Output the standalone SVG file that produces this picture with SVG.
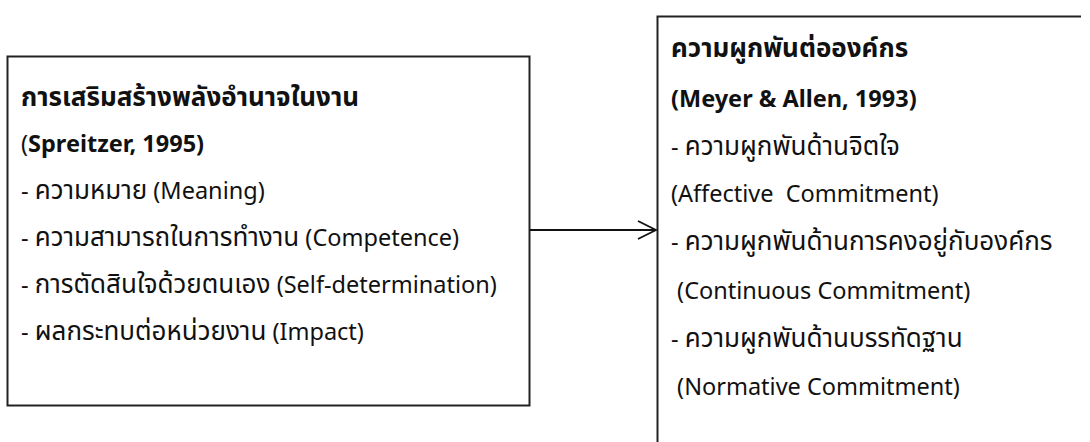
<svg xmlns="http://www.w3.org/2000/svg" width="1090" height="442" viewBox="0 0 1090 442">
<style>
text{font-family:"Noto Sans","Noto Sans Thai","Leelawadee UI",sans-serif;font-size:26px;fill:#111}
.l{font-size:23.5px}
.b{font-weight:bold}
.n{font-weight:normal}
.box{fill:none;stroke:#222;stroke-width:2}
.conn{fill:none;stroke:#111;stroke-width:1.8}
</style>
<rect width="1090" height="442" fill="#fff"/>
<g id="node-empowerment">
<rect class="box" x="7.5" y="56.5" width="522" height="349"/>
<text class="b" x="21" y="106">การเสริมสร้างพลังอำนาจในงาน</text>
<text class="b l" x="21" y="152"><tspan class="n">(</tspan>Spreitzer, 1995)</text>
<text x="21" y="199"><tspan class="l">- </tspan>ความหมาย<tspan class="l"> (Meaning)</tspan></text>
<text x="21" y="246"><tspan class="l">- </tspan>ความสามารถในการทำงาน<tspan class="l"> (Competence)</tspan></text>
<text x="21" y="293"><tspan class="l">- </tspan>การตัดสินใจด้วยตนเอง<tspan class="l"> (Self-determination)</tspan></text>
<text x="21" y="340"><tspan class="l">- </tspan>ผลกระทบต่อหน่วยงาน<tspan class="l"> (Impact)</tspan></text>
</g>
<g id="node-commitment">
<path class="box" d="M1081,16.5 H657.5 V442"/>
<text class="b" x="671" y="57">ความผูกพันต่อองค์กร</text>
<text class="b l" x="671" y="107">(Meyer &amp; Allen, 1993)</text>
<text x="671" y="155"><tspan class="l">- </tspan>ความผูกพันด้านจิตใจ</text>
<text class="l" x="671" y="202" xml:space="preserve">(Affective  Commitment)</text>
<text x="671" y="250"><tspan class="l">- </tspan>ความผูกพันด้านการคงอยู่กับองค์กร</text>
<text class="l" x="671" y="299" xml:space="preserve"> (Continuous Commitment)</text>
<text x="671" y="347"><tspan class="l">- </tspan>ความผูกพันด้านบรรทัดฐาน</text>
<text class="l" x="671" y="395" xml:space="preserve"> (Normative Commitment)</text>
</g>
<g id="connectors">
<line class="conn" x1="530" y1="230" x2="656" y2="230"/>
<polyline class="conn" points="638,221 656,230 638,239"/>
</g>
</svg>
